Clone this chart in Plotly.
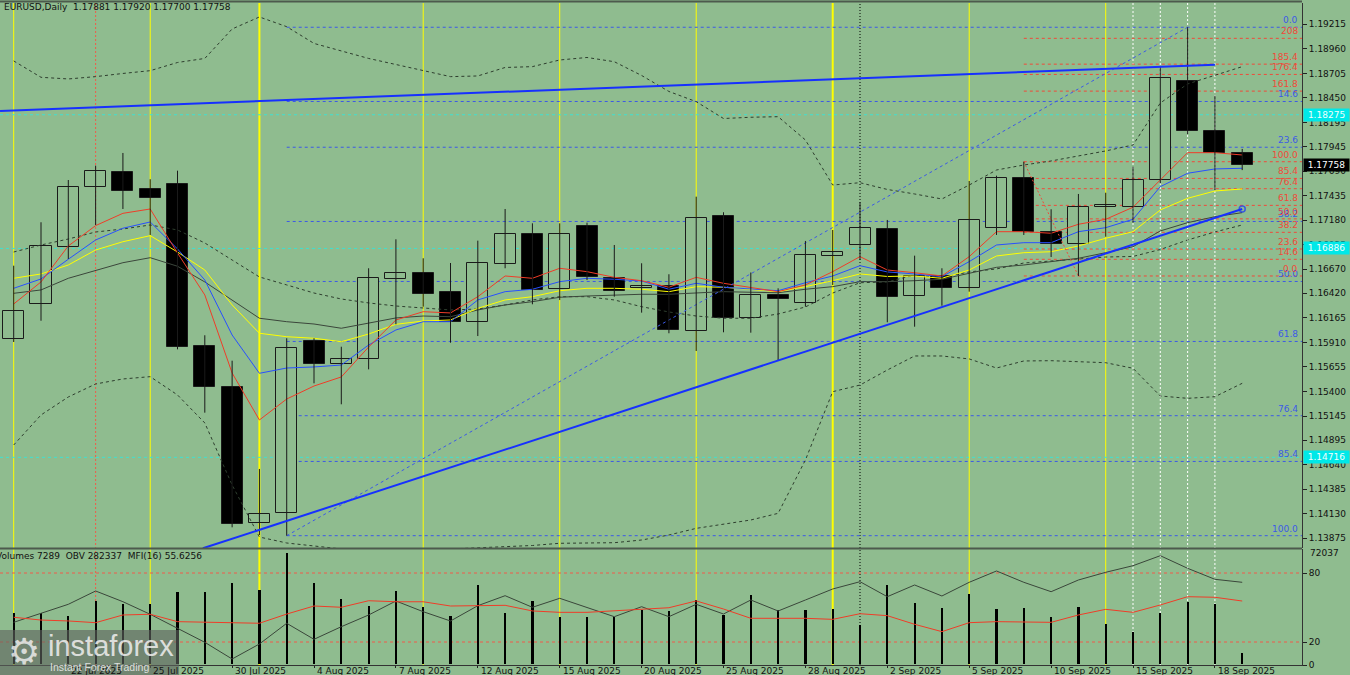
import plotly.graph_objects as go

# ---------------- data ----------------
dates = ["18 Jul 2025", "21 Jul 2025", "22 Jul 2025", "23 Jul 2025", "24 Jul 2025", "25 Jul 2025",
         "28 Jul 2025", "29 Jul 2025", "30 Jul 2025", "31 Jul 2025", "1 Aug 2025", "4 Aug 2025",
         "5 Aug 2025", "6 Aug 2025", "7 Aug 2025", "8 Aug 2025", "11 Aug 2025", "12 Aug 2025",
         "13 Aug 2025", "14 Aug 2025", "15 Aug 2025", "18 Aug 2025", "19 Aug 2025", "20 Aug 2025",
         "21 Aug 2025", "22 Aug 2025", "25 Aug 2025", "26 Aug 2025", "27 Aug 2025", "28 Aug 2025",
         "29 Aug 2025", "1 Sep 2025", "2 Sep 2025", "3 Sep 2025", "4 Sep 2025", "5 Sep 2025",
         "8 Sep 2025", "9 Sep 2025", "10 Sep 2025", "11 Sep 2025", "12 Sep 2025", "15 Sep 2025",
         "16 Sep 2025", "17 Sep 2025", "18 Sep 2025", "19 Sep 2025"]
date_label_idx = [-1, 2, 5, 8, 11, 14, 17, 20, 23, 26, 29, 32, 35, 38, 41, 44]
date_label_txt = ["17 Jul 2025"] + [dates[i] for i in date_label_idx[1:]]

opens = [1.15942, 1.16309, 1.16904, 1.17521, 1.17680, 1.17507, 1.17556, 1.15873, 1.15450, 1.14030,
         1.14134, 1.15928, 1.15689, 1.15734, 1.16566, 1.16634, 1.16434, 1.16125, 1.16728, 1.17036,
         1.16462, 1.17119, 1.16579, 1.16472, 1.16499, 1.16028, 1.17223, 1.16160, 1.16402, 1.16316,
         1.16811, 1.16922, 1.17091, 1.16392, 1.16600, 1.16472, 1.17095, 1.17615, 1.17060, 1.16932,
         1.17320, 1.17320, 1.17597, 1.18629, 1.18110, 1.17881]
highs = [1.16707, 1.17158, 1.17597, 1.17746, 1.17878, 1.17605, 1.17694, 1.15984, 1.15720, 1.14595,
         1.15953, 1.15953, 1.15865, 1.16680, 1.16981, 1.16784, 1.16735, 1.16967, 1.17296, 1.17147,
         1.17147, 1.17154, 1.16922, 1.16732, 1.16618, 1.17424, 1.17262, 1.16636, 1.16472, 1.16964,
         1.17078, 1.17366, 1.17182, 1.16811, 1.16680, 1.17587, 1.17642, 1.17787, 1.17293, 1.17452,
         1.17465, 1.17735, 1.18774, 1.19184, 1.18473, 1.17920]
lows = [1.15914, 1.16135, 1.16777, 1.17130, 1.17296, 1.17026, 1.15838, 1.15180, 1.13989, 1.13909,
        1.13902, 1.15485, 1.15267, 1.15630, 1.16098, 1.16281, 1.15907, 1.15976, 1.16680, 1.16306,
        1.16350, 1.16558, 1.16385, 1.16219, 1.16005, 1.15821, 1.16015, 1.16011, 1.15720, 1.16281,
        1.16506, 1.16766, 1.16119, 1.16073, 1.16291, 1.16437, 1.17026, 1.17026, 1.16797, 1.16600,
        1.17008, 1.17154, 1.17563, 1.18075, 1.17493, 1.17700]
closes = [1.16233, 1.16912, 1.17525, 1.17691, 1.17483, 1.17413, 1.15865, 1.15443, 1.14023, 1.14124,
          1.15849, 1.15689, 1.15734, 1.16576, 1.16634, 1.16410, 1.16125, 1.16732, 1.17036, 1.16454,
          1.17036, 1.16593, 1.16447, 1.16499, 1.16039, 1.17199, 1.16160, 1.16402, 1.16361, 1.16815,
          1.16846, 1.17095, 1.16379, 1.16600, 1.16472, 1.17179, 1.17615, 1.17060, 1.16929, 1.17320,
          1.17334, 1.17594, 1.18654, 1.18110, 1.17881, 1.17758]

ma_red = [1.16309, 1.16538, 1.16912, 1.17123, 1.17251, 1.17296, 1.16839, 1.16403, 1.15592, 1.15104,
          1.15322, 1.15457, 1.15551, 1.15862, 1.16143, 1.16229, 1.16216, 1.16385, 1.16600, 1.16576,
          1.16680, 1.16645, 1.16586, 1.16551, 1.16483, 1.16586, 1.16524, 1.16483, 1.16437, 1.16507,
          1.16645, 1.16801, 1.16662, 1.16634, 1.16600, 1.16801, 1.17060, 1.17060, 1.17044, 1.17137,
          1.17189, 1.17314, 1.17597, 1.17881, 1.17881, 1.17857]
ma_blue = [1.16472, 1.16569, 1.16774, 1.16974, 1.17096, 1.17161, 1.16881, 1.16558, 1.15987, 1.15589,
           1.15644, 1.15655, 1.15675, 1.15883, 1.16039, 1.16125, 1.16125, 1.16351, 1.16437, 1.16462,
           1.16541, 1.16576, 1.16566, 1.16548, 1.16462, 1.16524, 1.16483, 1.16462, 1.16447, 1.16530,
           1.16600, 1.16707, 1.16642, 1.16621, 1.16593, 1.16749, 1.16922, 1.16946, 1.16946, 1.17060,
           1.17102, 1.17189, 1.17528, 1.17667, 1.17712, 1.17719]
ma_yellow = [1.16576, 1.16621, 1.16714, 1.16870, 1.16956, 1.17019, 1.16849, 1.16662, 1.16299, 1.16005,
             1.15969, 1.15953, 1.15917, 1.15997, 1.16098, 1.16132, 1.16143, 1.16264, 1.16351, 1.16385,
             1.16447, 1.16472, 1.16472, 1.16462, 1.16437, 1.16489, 1.16483, 1.16462, 1.16437, 1.16489,
             1.16551, 1.16621, 1.16595, 1.16600, 1.16576, 1.16662, 1.16808, 1.16842, 1.16852, 1.16912,
             1.16992, 1.17060, 1.17286, 1.17407, 1.17483, 1.17504]
ma_gray = [1.16420, 1.16455, 1.16576, 1.16655, 1.16738, 1.16790, 1.16701, 1.16538, 1.16351, 1.16161,
           1.16125, 1.16101, 1.16057, 1.16112, 1.16164, 1.16184, 1.16177, 1.16247, 1.16299, 1.16333,
           1.16379, 1.16392, 1.16403, 1.16410, 1.16410, 1.16426, 1.16437, 1.16431, 1.16426, 1.16462,
           1.16489, 1.16541, 1.16541, 1.16551, 1.16566, 1.16628, 1.16690, 1.16714, 1.16749, 1.16784,
           1.16842, 1.16904, 1.17068, 1.17154, 1.17216, 1.17258]

bb_upper = [1.18834, 1.18664, 1.18647, 1.18671, 1.18704, 1.18733, 1.18818, 1.18860, 1.19166, 1.19291,
            1.19190, 1.19016, 1.18938, 1.18860, 1.18797, 1.18733, 1.18671, 1.18678, 1.18766, 1.18775,
            1.18844, 1.18870, 1.18826, 1.18683, 1.18517, 1.18411, 1.18236, 1.18249, 1.18255, 1.18013,
            1.17545, 1.17569, 1.17499, 1.17452, 1.17400, 1.17545, 1.17701, 1.17753, 1.17795, 1.17847,
            1.17899, 1.17961, 1.18397, 1.18595, 1.18683, 1.18775]
bb_middle = [1.16849, 1.16922, 1.16984, 1.17057, 1.17088, 1.17130, 1.17078, 1.16943, 1.16766, 1.16590,
             1.16507, 1.16423, 1.16361, 1.16320, 1.16288, 1.16268, 1.16247, 1.16257, 1.16299, 1.16351,
             1.16385, 1.16385, 1.16351, 1.16281, 1.16226, 1.16184, 1.16161, 1.16161, 1.16205, 1.16278,
             1.16423, 1.16530, 1.16538, 1.16610, 1.16584, 1.16642, 1.16673, 1.16735, 1.16756, 1.16782,
             1.16797, 1.16803, 1.16875, 1.16974, 1.17057, 1.17130]
bb_lower = [1.14844, 1.15156, 1.15343, 1.15478, 1.15530, 1.15554, 1.15364, 1.15073, 1.14429, 1.13888,
            1.13826, 1.13795, 1.13764, 1.13753, 1.13753, 1.13753, 1.13764, 1.13774, 1.13784, 1.13800,
            1.13823, 1.13826, 1.13829, 1.13857, 1.13909, 1.13978, 1.14023, 1.14065, 1.14134, 1.14688,
            1.15398, 1.15467, 1.15623, 1.15769, 1.15769, 1.15738, 1.15644, 1.15717, 1.15720, 1.15712,
            1.15699, 1.15641, 1.15353, 1.15329, 1.15346, 1.15485]

volumes = [33300, 32900, 31150, 40900, 38750, 38750, 46900, 46500, 52800, 48000,
           72037, 52400, 42200, 37650, 47600, 37200, 31150, 51300, 33300, 40900,
           30700, 30700, 30700, 35050, 34400, 41550, 31800, 44800, 34850, 35050,
           35500, 25300, 51300, 39400, 36150, 45600, 35700, 36550, 30500, 37000,
           26150, 20950, 33300, 40450, 39150, 7289]
obv = [158300, 186200, 214100, 255400, 222200, 183100, 139700, 96300, 44600, 91100,
       155200, 105600, 144700, 180970, 224400, 191200, 162400, 209800, 240800, 204800,
       232700, 204800, 175700, 206700, 175700, 214100, 184100, 227500, 193400, 227500,
       261600, 284200, 237700, 274000, 239900, 282300, 317400, 282300, 253200, 289500,
       313300, 333800, 364800, 325700, 291600, 282337]
mfi = [41.5, 39.1, 38.3, 36.8, 43.5, 44.1, 37.7, 37.1, 36.8, 36.3,
       44.3, 51.3, 50.2, 55.9, 55.0, 55.0, 51.3, 51.9, 51.9, 47.0,
       45.8, 45.8, 47.0, 48.7, 49.8, 55.7, 48.7, 40.6, 40.9, 40.6,
       39.7, 44.6, 42.9, 35.4, 29.0, 36.8, 37.7, 37.1, 37.1, 43.5,
       48.4, 45.8, 52.2, 59.4, 58.9, 55.6256]

price_ticks = [1.19215, 1.18960, 1.18705, 1.18450, 1.18195, 1.17945, 1.17690, 1.17435, 1.17180,
               1.16925, 1.16670, 1.16420, 1.16165, 1.15910, 1.15655, 1.15400, 1.15145, 1.14895,
               1.14640, 1.14385, 1.14130, 1.13875]

blue_fib_from = (10, 43)          # low bar, high bar
blue_levels = [0, 14.6, 23.6, 38.2, 50, 61.8, 76.4, 85.4, 100]
blue_labels = ["0.0", "14.6", "23.6", "38.2", "50.0", "61.8", "76.4", "85.4", "100.0"]
red_fib_from = (39, 37)           # low bar, high bar
red_levels = [0, 14.6, 23.6, 38.2, 50, 61.8, 76.4, 85.4, 100, 161.8, 176.4, 185.4, 208]
red_labels = ["0.0", "14.6", "23.6", "38.2", "50.0", "61.8", "76.4", "85.4", "100.0",
              "161.8", "176.4", "185.4", "208"]
cyan_levels = [1.18275, 1.16886, 1.14716]
cyan_labels = ["1.18275", "1.16886", "1.14716"]

tl_upper_x = [-0.5, 44]
tl_upper_y = [1.18314, 1.18795]
tl_lower_x = [6.93, 45]
tl_lower_y = [1.13771, 1.17296]

yellow_bars = [0, 5, 9, 15, 20, 25, 30, 35, 40]
yellow_thick = [9, 30]
red_dot_bars = [3]
black_dot_bars = [31]
white_dot_bars = [41, 42, 43, 44]

# ---------------- geometry ----------------
W, H = 1350, 675
BG = "#8fbc8f"
X_RANGE = [-0.502, 47.19]
PLOT_R = 1302 / W


def py(pix):
    return 1 - pix / H


MAIN_DOM = [py(548), py(3)]
SUB_DOM = [py(665), py(549)]
PRICE_RANGE = [1.13774, 1.19436]

FONT = "DejaVu Sans"
TXT = "#111111"

n = len(opens)
xs = list(range(n))

fig = go.Figure()

# bands
for s in (bb_upper, bb_middle, bb_lower):
    fig.add_trace(go.Scatter(x=xs, y=s, mode="lines",
                             line=dict(color="#2e3e2e", width=1, dash="3px,3px"),
                             hoverinfo="skip", showlegend=False))
# MAs
for s, c in ((ma_gray, "#3b463b"), (ma_yellow, "#ffff00"), (ma_blue, "#2850ff"), (ma_red, "#f03c28")):
    fig.add_trace(go.Scatter(x=xs, y=s, mode="lines", line=dict(color=c, width=1),
                             hoverinfo="skip", showlegend=False))

# fib diagonals
bl, bh = blue_fib_from
fig.add_trace(go.Scatter(x=[bl, bh], y=[lows[bl], highs[bh]], mode="lines",
                         line=dict(color="#3c5ae6", width=1, dash="3px,3px"),
                         hoverinfo="skip", showlegend=False))
rl, rh = red_fib_from
fig.add_trace(go.Scatter(x=[rh, rl], y=[highs[rh], lows[rl]], mode="lines",
                         line=dict(color="#f04a3a", width=1, dash="2px,2px"),
                         hoverinfo="skip", showlegend=False))

# wicks
wx, wy = [], []
for i in xs:
    wx += [i, i, None]
    wy += [lows[i], highs[i], None]
fig.add_trace(go.Scatter(x=wx, y=wy, mode="lines", line=dict(color="#1a1a1a", width=1),
                         hoverinfo="skip", showlegend=False))

# bodies
bull = [i for i in xs if closes[i] >= opens[i]]
bear = [i for i in xs if closes[i] < opens[i]]
fig.add_trace(go.Bar(x=bull, base=[opens[i] for i in bull],
                     y=[max(closes[i] - opens[i], 0.00002) for i in bull],
                     width=0.77, marker=dict(color=BG, line=dict(color="#1a1a1a", width=1)),
                     hoverinfo="skip", showlegend=False))
fig.add_trace(go.Bar(x=bear, base=[closes[i] for i in bear],
                     y=[opens[i] - closes[i] for i in bear],
                     width=0.77, marker=dict(color="#000000", line=dict(color="#1a1a1a", width=1)),
                     hoverinfo="skip", showlegend=False))

# trend lines
fig.add_trace(go.Scatter(x=tl_upper_x, y=tl_upper_y, mode="lines",
                         line=dict(color="#1630ff", width=2), hoverinfo="skip", showlegend=False))
fig.add_trace(go.Scatter(x=tl_lower_x, y=tl_lower_y, mode="lines+markers",
                         line=dict(color="#1630ff", width=2),
                         marker=dict(size=[0, 6], color="rgba(0,0,0,0)",
                                     line=dict(color="#1630ff", width=1.5)),
                         hoverinfo="skip", showlegend=False))

# lower panel
fig.add_trace(go.Bar(x=xs, y=volumes, width=0.08, marker=dict(color="#000000", line=dict(width=0)),
                     xaxis="x2", yaxis="y2", hoverinfo="skip", showlegend=False))
fig.add_trace(go.Scatter(x=xs, y=obv, mode="lines", line=dict(color="#3a463a", width=1),
                         xaxis="x2", yaxis="y3", hoverinfo="skip", showlegend=False))
fig.add_trace(go.Scatter(x=xs, y=mfi, mode="lines", line=dict(color="#f03c28", width=1),
                         xaxis="x2", yaxis="y4", hoverinfo="skip", showlegend=False))

shapes = []
ann = []

# vertical lines
for b in yellow_bars:
    shapes.append(dict(type="line", xref="x", yref="paper", x0=b, x1=b, y0=SUB_DOM[0], y1=MAIN_DOM[1],
                       line=dict(color="#ffff00", width=2 if b in yellow_thick else 1), layer="below"))
for b in red_dot_bars:
    shapes.append(dict(type="line", xref="x", yref="paper", x0=b, x1=b, y0=SUB_DOM[0], y1=MAIN_DOM[1],
                       line=dict(color="#f05a4a", width=1, dash="2px,2px"), layer="below"))
for b in black_dot_bars:
    shapes.append(dict(type="line", xref="x", yref="paper", x0=b, x1=b, y0=SUB_DOM[0], y1=MAIN_DOM[1],
                       line=dict(color="#000000", width=1, dash="1px,2px"), layer="below"))
for b in white_dot_bars:
    shapes.append(dict(type="line", xref="x", yref="paper", x0=b, x1=b, y0=SUB_DOM[0], y1=MAIN_DOM[1],
                       line=dict(color="#ffffff", width=1, dash="2px,2px"), layer="below"))

# cyan horizontal lines
for lv, lab in zip(cyan_levels, cyan_labels):
    shapes.append(dict(type="line", xref="x", yref="y", x0=X_RANGE[0], x1=X_RANGE[1], y0=lv, y1=lv,
                       line=dict(color="#40e0d0", width=1, dash="3px,3px"), layer="below"))
    ann.append(dict(xref="paper", yref="y", x=1303 / W, y=lv, xanchor="left", yanchor="middle",
                    text=lab, showarrow=False, bgcolor="#00e8e8", borderpad=1, width=43,
                    font=dict(family=FONT, size=9, color="#f0ffff")))

# blue fib
b_hi, b_lo = highs[bh], lows[bl]
for lv, lab in zip(blue_levels, blue_labels):
    p = b_hi - (b_hi - b_lo) * lv / 100
    shapes.append(dict(type="line", xref="x", yref="y", x0=bl, x1=X_RANGE[1], y0=p, y1=p,
                       line=dict(color="#3c5ae6", width=1, dash="3px,3px"), layer="below"))
    ann.append(dict(xref="paper", yref="y", x=1300 / W, y=p, xanchor="right", yanchor="bottom",
                    text=lab, showarrow=False, font=dict(family=FONT, size=9, color="#3c5ae6")))

# red fib
r_hi, r_lo = highs[rh], lows[rl]
for lv, lab in zip(red_levels, red_labels):
    p = r_lo + (r_hi - r_lo) * lv / 100
    shapes.append(dict(type="line", xref="x", yref="y", x0=rh, x1=X_RANGE[1], y0=p, y1=p,
                       line=dict(color="#f04a3a", width=1, dash="3px,3px"), layer="below"))
    ann.append(dict(xref="paper", yref="y", x=1300 / W, y=p, xanchor="right", yanchor="bottom",
                    text=lab, showarrow=False, font=dict(family=FONT, size=9, color="#f04a3a")))

# MFI levels
for lv in (80, 20):
    shapes.append(dict(type="line", xref="x2", yref="y4", x0=X_RANGE[0], x1=X_RANGE[1], y0=lv, y1=lv,
                       line=dict(color="#f05a4a", width=1, dash="3px,3px"), layer="below"))

# frame lines
shapes.append(dict(type="line", xref="paper", yref="paper", x0=0, x1=PLOT_R, y0=py(1.5), y1=py(1.5),
                   line=dict(color="#4d5a4d", width=2)))
shapes.append(dict(type="line", xref="paper", yref="paper", x0=0, x1=PLOT_R, y0=py(548.5), y1=py(548.5),
                   line=dict(color="#4d5a4d", width=2)))

# price tag for last close
ann.append(dict(xref="paper", yref="y", x=1303 / W, y=closes[-1], xanchor="left", yanchor="middle",
                text=f"{closes[-1]:.5f}", showarrow=False, bgcolor="#000000", borderpad=1, width=43,
                font=dict(family=FONT, size=9, color="#ffffff")))

# header texts
ann.append(dict(xref="paper", yref="paper", x=2 / W, y=py(7), xanchor="left", yanchor="middle",
                text=f"EURUSD,Daily  {opens[-1]:.5f} {highs[-1]:.5f} {lows[-1]:.5f} {closes[-1]:.5f}",
                showarrow=False, font=dict(family=FONT, size=9, color=TXT)))
ann.append(dict(xref="paper", yref="paper", x=-6 / W, y=py(555.5), xanchor="left", yanchor="middle",
                text=f"Volumes {volumes[-1]}  OBV {obv[-1]}  MFI(16) {mfi[-1]:.4f}",
                showarrow=False, font=dict(family=FONT, size=9, color=TXT)))
ann.append(dict(xref="paper", yref="y2", x=1308 / W, y=max(volumes), xanchor="left", yanchor="middle",
                text=str(max(volumes)), showarrow=False, font=dict(family=FONT, size=9, color=TXT)))

# date labels
for i, t in zip(date_label_idx, date_label_txt):
    ann.append(dict(xref="x2", yref="paper", x=i + 0.03, y=py(670.5), xanchor="left", yanchor="middle",
                    text=t, showarrow=False, font=dict(family=FONT, size=9, color=TXT)))

# watermark
shapes.append(dict(type="rect", xref="paper", yref="paper", x0=0, x1=179 / W, y0=0, y1=py(630),
                   fillcolor="rgba(95,100,95,0.62)", line=dict(width=0)))
ann.append(dict(xref="paper", yref="paper", x=24 / W, y=py(651), xanchor="center", yanchor="middle",
                text="⚙", showarrow=False, font=dict(family="DejaVu Sans", size=36,
                                                     color="rgba(235,235,235,0.85)")))
ann.append(dict(xref="paper", yref="paper", x=46 / W, y=py(646), xanchor="left", yanchor="middle",
                text="instaforex", showarrow=False,
                font=dict(family="Liberation Sans", size=29, color="rgba(235,235,235,0.9)")))
ann.append(dict(xref="paper", yref="paper", x=48 / W, y=py(667), xanchor="left", yanchor="middle",
                text="Instant Forex Trading", showarrow=False,
                font=dict(family="Liberation Sans", size=10.5, color="rgba(235,235,235,0.9)")))

fig.update_layout(
    width=W, height=H, margin=dict(l=0, r=0, t=0, b=0),
    paper_bgcolor=BG, plot_bgcolor=BG, barmode="overlay", bargap=0,
    showlegend=False, shapes=shapes, annotations=ann,
    xaxis=dict(domain=[0, PLOT_R], range=X_RANGE, anchor="y", showticklabels=False,
               showgrid=False, zeroline=False, ticks=""),
    yaxis=dict(domain=MAIN_DOM, range=PRICE_RANGE, side="right", anchor="x",
               tickvals=price_ticks, ticktext=[f"{v:.5f}" for v in price_ticks],
               ticks="outside", ticklen=4, tickcolor="#222", showline=True, linecolor="#333",
               linewidth=1, showgrid=False, zeroline=False, automargin=False,
               tickfont=dict(family=FONT, size=9, color=TXT)),
    xaxis2=dict(domain=[0, PLOT_R], range=X_RANGE, anchor="y2", showticklabels=False,
                tickvals=date_label_idx, ticks="outside", ticklen=2, tickcolor="#222",
                showline=True, linecolor="#333", showgrid=False, zeroline=False),
    yaxis2=dict(domain=SUB_DOM, range=[-649, 74635], anchor="x2", visible=False, fixedrange=True),
    yaxis3=dict(range=[25967, 385567], overlaying="y2", anchor="x2", visible=False),
    yaxis4=dict(range=[0, 100.87], overlaying="y2", anchor="x2", side="right",
                tickvals=[0, 20, 80], ticktext=["0", "20", "80"], ticks="outside", ticklen=4,
                tickcolor="#222", showline=True, linecolor="#333", showgrid=False, zeroline=False,
                automargin=False, tickfont=dict(family=FONT, size=9, color=TXT)),
)

fig.write_html("out.html", config={"displayModeBar": False},
               post_script="document.body.style.margin='0px';document.body.style.overflow='hidden';")
